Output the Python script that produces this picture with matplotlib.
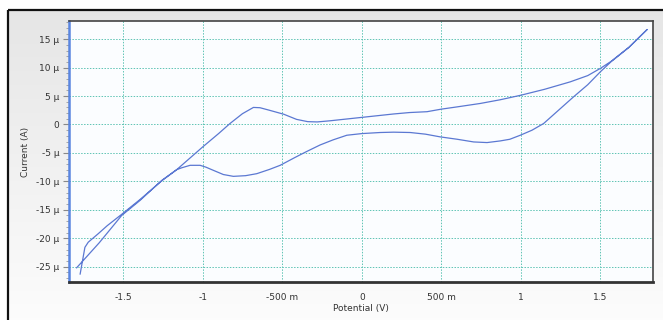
import matplotlib
matplotlib.use("Agg")
import matplotlib.pyplot as plt
import numpy as np
from matplotlib.patches import Rectangle
from matplotlib.ticker import FixedLocator, MultipleLocator

# Forward sweep (upper branch), potential in V, current in microamps
fwd_x = [-1.792, -1.65, -1.509, -1.394, -1.257, -1.163, -1.0, -0.9, -0.828, -0.75,
         -0.681, -0.64, -0.58, -0.49, -0.41, -0.34, -0.28, -0.2, -0.1, 0.0,
         0.1, 0.2, 0.3, 0.41, 0.5, 0.6, 0.745, 0.87, 1.0, 1.15,
         1.31, 1.42, 1.5, 1.583, 1.68, 1.793]
fwd_y = [-25.2, -20.8, -16.0, -13.36, -9.83, -7.94, -3.95, -1.6, 0.18, 1.9,
         3.0, 2.95, 2.5, 1.8, 0.9, 0.5, 0.45, 0.65, 0.95, 1.25,
         1.55, 1.85, 2.1, 2.25, 2.7, 3.1, 3.7, 4.35, 5.15, 6.2,
         7.5, 8.6, 9.88, 11.4, 13.6, 16.7]

# Reverse sweep (lower branch)
rev_x = [1.793, 1.68, 1.583, 1.5, 1.42, 1.331, 1.24, 1.143, 1.07, 0.996,
         0.93, 0.87, 0.787, 0.703, 0.6, 0.493, 0.4, 0.304, 0.2, 0.116,
         0.0, -0.094, -0.18, -0.262, -0.35, -0.42, -0.513, -0.58, -0.66, -0.73,
         -0.807, -0.87, -0.933, -0.98, -1.016, -1.079, -1.13, -1.163, -1.257, -1.394,
         -1.509, -1.6, -1.656, -1.719, -1.740, -1.77]
rev_y = [16.7, 13.6, 11.47, 9.29, 7.0, 4.87, 2.6, 0.18, -1.0, -1.89,
         -2.6, -2.89, -3.18, -3.07, -2.6, -2.18, -1.7, -1.41, -1.35, -1.41,
         -1.6, -1.89, -2.7, -3.6, -4.8, -5.8, -7.18, -7.9, -8.65, -9.0,
         -9.12, -8.8, -8.06, -7.5, -7.18, -7.18, -7.6, -7.94, -9.9, -13.2,
         -15.8, -17.8, -19.2, -20.7, -21.6, -26.3]

x_ticks = [-1.5, -1.0, -0.5, 0.0, 0.5, 1.0, 1.5]
x_labels = ["-1.5", "-1", "-500 m", "0", "500 m", "1", "1.5"]
y_ticks = [-25, -20, -15, -10, -5, 0, 5, 10, 15]
y_labels = ["-25 µ", "-20 µ", "-15 µ", "-10 µ", "-5 µ", "0", "5 µ", "10 µ", "15 µ"]

W, H = 663, 320
fig = plt.figure(figsize=(W / 100, H / 100), dpi=100)
fig.patch.set_facecolor("white")

# panel background gradient + frame
bg = fig.add_axes([0, 0, 1, 1], zorder=-10)
bg.set_xlim(0, W)
bg.set_ylim(H, 0)
bg.axis("off")
grad = np.linspace(0, 1, 256).reshape(-1, 1)
top_c = np.array([0.90, 0.90, 0.90])
bot_c = np.array([0.99, 0.99, 0.99])
img = top_c + (bot_c - top_c) * grad
img = np.repeat(img[:, None, :], 2, axis=1).reshape(256, 2, 3)
bg.imshow(img, extent=[8, W + 5, H + 5, 9.5], aspect="auto", zorder=0)
bg.add_patch(Rectangle((8, 9.5), W, H, fill=False, edgecolor="#111111", lw=1.6, zorder=1))

ax = fig.add_axes([69 / W, 1 - 282 / H, (653 - 69) / W, (282 - 21) / H])
ax.set_facecolor("#fbfdff")

ax.plot(fwd_x + rev_x, fwd_y + rev_y, color="#5b78d2", lw=0.9, zorder=3)

ax.set_xlim(-1.84, 1.83)
ax.set_ylim(-27.7, 18.2)

ax.xaxis.set_major_locator(FixedLocator(x_ticks))
ax.set_xticklabels(x_labels)
ax.yaxis.set_major_locator(FixedLocator(y_ticks))
ax.set_yticklabels(y_labels)
ax.yaxis.set_minor_locator(MultipleLocator(1))

ax.grid(True, which="major", color="#5fc4b4", linestyle=(0, (1.5, 1.5)), lw=0.7)

for s in ["top", "right"]:
    ax.spines[s].set_color("#444444")
    ax.spines[s].set_linewidth(1.2)
ax.spines["bottom"].set_color("#333333")
ax.spines["bottom"].set_linewidth(2.0)
ax.spines["left"].set_color("#5a86e0")
ax.spines["left"].set_linewidth(1.8)

ax.tick_params(axis="x", which="major", length=0, pad=8, labelsize=6.5, labelcolor="#333333")
ax.tick_params(axis="y", which="major", length=4, width=0.8, color="#888888", pad=3,
               labelsize=6.5, labelcolor="#333333")
ax.tick_params(axis="y", which="minor", length=2, width=0.6, color="#999999")

ax.set_xlabel("Potential (V)", fontsize=6.5, color="#333333", labelpad=1)
ax.set_ylabel("Current (A)", fontsize=6.5, color="#333333", labelpad=4)

fig.savefig("out.png", dpi=100)
